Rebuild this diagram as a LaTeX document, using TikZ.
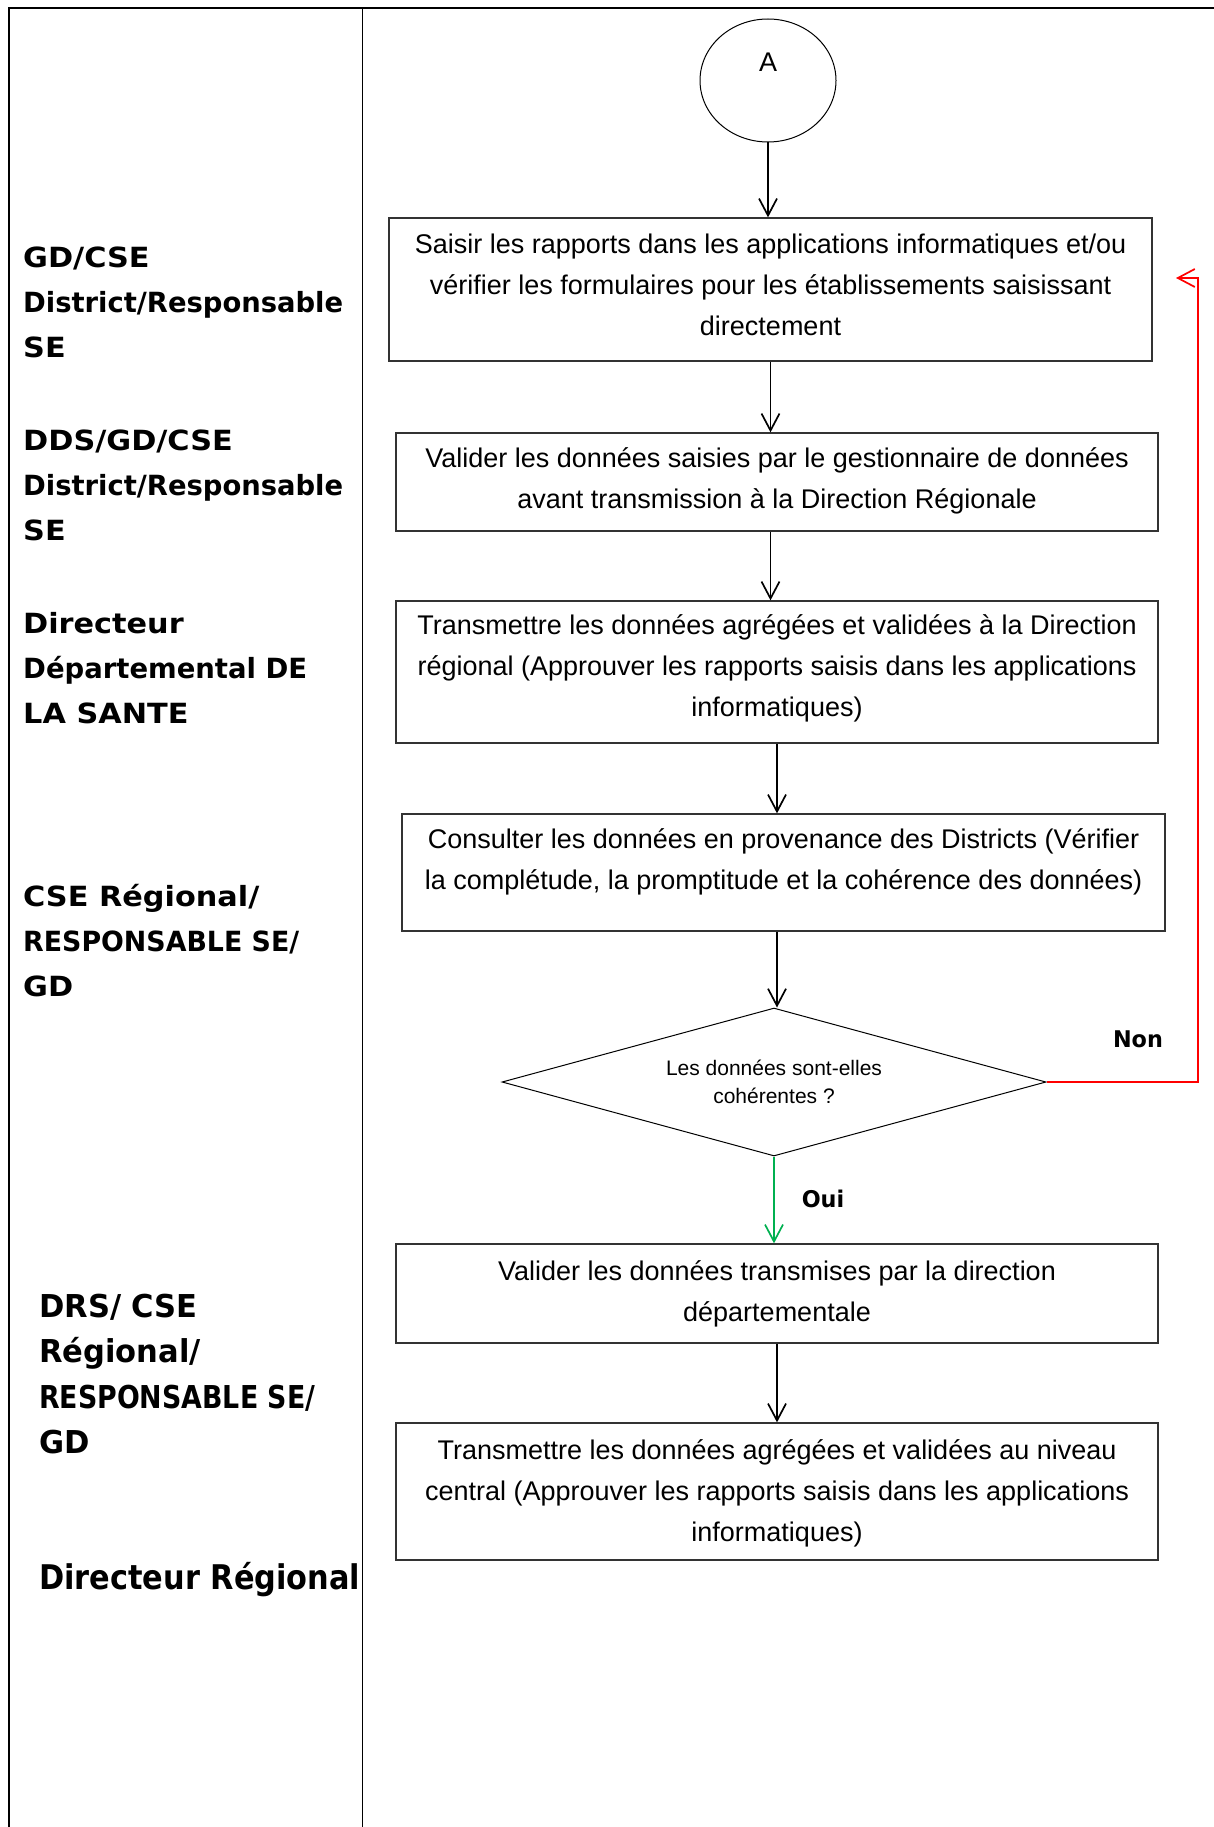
\documentclass[tikz,border=0pt]{standalone}
\usepackage{graphicx}
\usepackage{fontspec}
\setmainfont{Liberation Sans}
\newfontfamily\lanefont{DejaVu Sans}[FakeStretch=1.09]
\newfontfamily\lanefontb{DejaVu Sans}[FakeStretch=0.97]
\usetikzlibrary{arrows.meta,shapes.geometric}
% squeeze one line of text to a given width, keeping its height
\newcommand\fitline[2]{\resizebox{#1}{\height}{#2}}

\begin{document}
\begin{tikzpicture}[x=1pt,y=-1pt,
  stepbox/.style={draw=black!80, line width=1.3pt, inner sep=0pt, minimum width=762pt},
  steptext/.style={align=center, inner sep=0pt, font=\fontsize{27}{41}\selectfont},
  flow/.style={-{Straight Barb[length=17pt,width=18pt,line width=1.7pt]}, line width=1.7pt},
  lane/.style={font=\lanefont\bfseries\fontsize{27.8}{45}\selectfont, align=left,
    anchor=west, inner sep=0pt},
  laneb/.style={lane, font=\lanefontb\bfseries\fontsize{31.5}{45.5}\selectfont},
  tag/.style={font=\lanefontb\bfseries\fontsize{23}{28}\selectfont, inner sep=0pt}
]
\useasboundingbox (0,0) rectangle (1214,1827);

% swimlane frame
\draw[line width=1.8pt] (9,1827) -- (9,8) -- (1214,8);
\draw[line width=1pt] (362,8) -- (362,1827);

% lane titles
\node[lane] (l1) at (23,302) {GD/CSE\\\fitline{320pt}{District/Responsable}\\SE};
\node[lane] (l2) at (23,485) {DDS/GD/CSE\\\fitline{320pt}{District/Responsable}\\SE};
\node[lane] (l3) at (23,668) {Directeur\\\fitline{284pt}{Départemental DE}\\LA SANTE};
\node[lane] (l4) at (23,941) {CSE Régional/\\\fitline{276pt}{RESPONSABLE SE/}\\GD};
\node[laneb] (l5) at (39,1374) {DRS/ CSE\\Régional/\\\fitline{276pt}{RESPONSABLE SE/}\\GD};
\node[laneb, font=\lanefontb\bfseries\fontsize{34}{45}\selectfont] (l6) at (39,1580)
  {\fitline{321pt}{Directeur Régional}};

% connector A
\node[draw, ellipse, line width=1pt, minimum width=136pt, minimum height=123pt] (cA) at (768,80.5) {};
\node[font=\fontsize{27}{30}\selectfont] (tA) at (768,62) {A};

% process steps
\node[stepbox, minimum width=763pt, minimum height=143pt] (b1) at (770.5,289.5) {};
\node[steptext] (t1) at ([yshift=5pt]b1.center)
  {Saisir les rapports dans les applications informatiques et/ou\\vérifier les formulaires pour les établissements saisissant\\directement};
\node[stepbox, minimum height=98pt] (b2) at (777,482) {};
\node[steptext] (t2) at ([yshift=1pt]b2.center)
  {Valider les données saisies par le gestionnaire de données\\avant transmission à la Direction Régionale};
\node[stepbox, minimum height=142pt] (b3) at (777,672) {};
\node[steptext] (t3) at ([yshift=3.5pt]b3.center)
  {Transmettre les données agrégées et validées à la Direction\\régional (Approuver les rapports saisis dans les applications\\informatiques)};
\node[stepbox, minimum width=763pt, minimum height=117pt] (b4) at (783.5,872.5) {};
\node[steptext] (t4) at ([yshift=11pt]b4.center)
  {Consulter les données en provenance des Districts (Vérifier\\la complétude, la promptitude et la cohérence des données)};
\node[draw, diamond, aspect=3.676, line width=1pt, inner sep=0pt, minimum width=544pt, minimum height=148pt,
  align=center, font=\fontsize{21}{28}\selectfont] (d) at (774,1082)
  {Les données sont-elles\\cohérentes ?};
\node[stepbox, minimum height=99pt] (b5) at (777,1293.5) {};
\node[steptext] (t5) at (b5.center)
  {Valider les données transmises par la direction\\départementale};
\node[stepbox, minimum height=137pt] (b6) at (777,1491.5) {};
\node[steptext] (t6) at ([yshift=-2.3pt]b6.center)
  {Transmettre les données agrégées et validées au niveau\\central (Approuver les rapports saisis dans les applications\\informatiques)};

% flow
\draw[flow] (cA.south) -- (cA.south |- b1.north);
\draw[flow] (b1.south) -- (b1.south |- b2.north);
\draw[flow] (b2.south -| b1.south) -- (b1.south |- b3.north);
\draw[flow] (b3.south) -- (b3.south |- b4.north);
\draw[flow] (b3.south |- b4.south) -- (b3.south |- d.north);
\draw[flow, draw={rgb,255:red,0;green,176;blue,80}] (d.south) -- (d.south |- b5.north);
\draw[flow] (b5.south) -- (b5.south |- b6.north);

% loop back when the data are not consistent
\coordinate (rturn) at (1198,278);
\coordinate (rtip) at (1176,278);
\draw[flow, draw=red, line width=2.2pt] (d.east) -| (rturn) -- (rtip);

\node[tag] (non) at (1138,1039) {Non};
\node[tag] (oui) at (823,1199) {Oui};
\end{tikzpicture}
\end{document}
